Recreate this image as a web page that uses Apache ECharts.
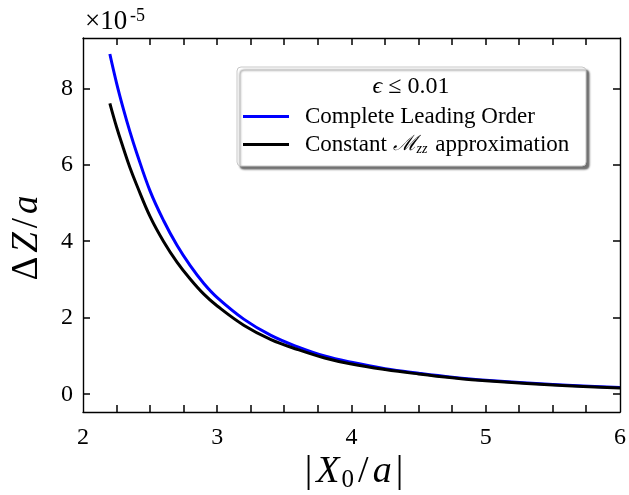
<!DOCTYPE html>
<html>
<head>
<meta charset="utf-8">
<script src="https://cdn.jsdelivr.net/npm/echarts@6/dist/echarts.min.js"></script>
<style>
  html, body { margin: 0; padding: 0; background: #fff; }
  #chart { width: 629px; height: 495px; }
</style>
</head>
<body>
<div id="chart"></div>
<script>
// |X0/a| sample positions
const xValues = [2.2, 2.25, 2.3, 2.35, 2.4, 2.5, 2.6, 2.7, 2.8, 2.9, 3.0, 3.2, 3.4, 3.6, 3.8, 4.0, 4.25, 4.5, 4.75, 5.0, 5.5, 6.0];
// ΔZ/a in units of 1e-5: complete leading order
const completeLeading = [8.91, 8.15, 7.48, 6.87, 6.32, 5.32, 4.55, 3.90, 3.36, 2.90, 2.53, 1.96, 1.54, 1.24, 1.00, 0.835, 0.67, 0.55, 0.445, 0.365, 0.255, 0.175];
// ΔZ/a in units of 1e-5: constant M_zz approximation
const constantMzz = [7.62, 7.00, 6.45, 5.93, 5.48, 4.65, 4.00, 3.46, 3.01, 2.62, 2.31, 1.80, 1.43, 1.17, 0.95, 0.79, 0.645, 0.53, 0.43, 0.35, 0.24, 0.165];

const xTickLabels = [2, 3, 4, 5, 6];
const yTickLabels = [0, 2, 4, 6, 8];

const FONT = '"Liberation Serif", "DejaVu Serif", serif';
const X_MIN = 2, X_MAX = 6, Y_MIN = -0.466, Y_MAX = 9.33;

// minor tick positions every quarter unit along x
const xMinorTicks = [];
for (let v = X_MIN; v <= X_MAX + 1e-6; v += 0.25) xMinorTicks.push(+v.toFixed(2));

const chart = echarts.init(document.getElementById('chart'), null, { renderer: 'canvas' });

const axisLine = { show: true, onZero: false, lineStyle: { color: '#000', width: 1.4 } };

const baseGraphic = [
  // legend frame with shadow
  {
    type: 'rect', z: 1,
    shape: { x: 237, y: 67, width: 349, height: 99, r: 4 },
    style: { fill: '#fff', stroke: '#c8c8c8', lineWidth: 1, shadowColor: 'rgba(0,0,0,0.55)', shadowOffsetX: 3, shadowOffsetY: 3, shadowBlur: 2 }
  },
  // legend title
  {
    type: 'text', z: 11, x: 411, y: 87,
    style: {
      text: '{e|ϵ}{t| ≤ 0.01}',
      align: 'center', verticalAlign: 'middle',
      rich: {
        e: { fontFamily: FONT, fontStyle: 'italic', fontSize: 24, fill: '#000' },
        t: { fontFamily: FONT, fontSize: 24, fill: '#000' }
      }
    }
  },
  // y-axis scale factor
  {
    type: 'text', z: 11, x: 85, y: 35,
    style: { text: '×10', fontFamily: FONT, fontSize: 27, fill: '#000', align: 'left', verticalAlign: 'bottom' }
  },
  {
    type: 'text', z: 11, x: 130, y: 25,
    style: { text: '-5', fontFamily: FONT, fontSize: 18, fill: '#000', align: 'left', verticalAlign: 'bottom' }
  },
  // y-axis title ΔZ/a
  {
    type: 'text', z: 11, x: 27, y: 238, rotation: Math.PI / 2,
    style: {
      text: '{n|Δ}{i|Z}{n|/}{i|a}',
      align: 'center', verticalAlign: 'middle',
      rich: {
        n: { fontFamily: FONT, fontSize: 37, fill: '#000', padding: [0, 2, 0, 2] },
        i: { fontFamily: FONT, fontStyle: 'italic', fontSize: 37, fill: '#000', padding: [0, 2, 0, 2] }
      }
    }
  },
  // x-axis title |X0/a|
  {
    type: 'text', z: 11, x: 354, y: 472,
    style: {
      text: '{n||}{i|X}{s|0}{n|/}{i|a}{n||}',
      align: 'center', verticalAlign: 'middle',
      rich: {
        n: { fontFamily: FONT, fontSize: 38, fill: '#000', lineHeight: 42, padding: [0, 2, 0, 2] },
        i: { fontFamily: FONT, fontStyle: 'italic', fontSize: 38, fill: '#000', lineHeight: 42, padding: [0, 2, 0, 2] },
        s: { fontFamily: FONT, fontSize: 25, fill: '#000', lineHeight: 42, verticalAlign: 'bottom', padding: [12, 2, 0, 0] }
      }
    }
  }
];

const option = {
  backgroundColor: '#fff',
  animation: false,
  grid: { left: 83, top: 38, width: 540, height: 374, containLabel: false },
  xAxis: [
    {
      type: 'value', min: X_MIN, max: X_MAX, position: 'bottom',
      axisLine: axisLine,
      axisTick: { show: false },
      axisLabel: { customValues: xTickLabels, color: '#000', fontFamily: FONT, fontSize: 24, margin: 14 },
      splitLine: { show: false }
    },
    {
      type: 'value', min: X_MIN, max: X_MAX, position: 'top',
      axisLine: axisLine,
      axisTick: { show: false },
      axisLabel: { show: false },
      splitLine: { show: false }
    }
  ],
  yAxis: [
    {
      type: 'value', min: Y_MIN, max: Y_MAX, position: 'left',
      axisLine: axisLine,
      axisTick: { show: false },
      axisLabel: { customValues: yTickLabels, color: '#000', fontFamily: FONT, fontSize: 24, margin: 10 },
      splitLine: { show: false }
    },
    {
      type: 'value', min: Y_MIN, max: Y_MAX, position: 'right',
      axisLine: axisLine,
      axisTick: { show: false },
      axisLabel: { show: false },
      splitLine: { show: false }
    }
  ],
  legend: {
    orient: 'vertical',
    left: 237, top: 67,
    padding: [38, 8, 8, 6],
    itemGap: 5,
    icon: 'rect',
    itemWidth: 46, itemHeight: 3,
    z: 10,
    data: ['Complete Leading Order', 'Constant Mzz approximation'],
    formatter: function (name) {
      if (name === 'Constant Mzz approximation') {
        return '{t|Constant }{m|ℳ}{s|zz}{t| approximation}';
      }
      return '{t|' + name + '}';
    },
    textStyle: {
      padding: [0, 0, 0, 11],
      rich: {
        t: { fontFamily: FONT, fontSize: 23, color: '#000', lineHeight: 24 },
        m: { fontFamily: '"DejaVu Serif", serif', fontStyle: 'italic', fontSize: 21, color: '#000', lineHeight: 24 },
        s: { fontFamily: FONT, fontStyle: 'italic', fontSize: 14, color: '#000', lineHeight: 24, verticalAlign: 'bottom', padding: [9, 2, 0, 0] }
      }
    }
  },
  graphic: baseGraphic,
  series: [
    {
      name: 'Complete Leading Order',
      type: 'line',
      xAxisIndex: 0, yAxisIndex: 0,
      data: xValues.map((x, i) => [x, completeLeading[i]]),
      smooth: 0.4,
      symbol: 'none', showSymbol: false,
      lineStyle: { color: '#0000ff', width: 3 },
      itemStyle: { color: '#0000ff' },
      z: 2
    },
    {
      name: 'Constant Mzz approximation',
      type: 'line',
      xAxisIndex: 0, yAxisIndex: 0,
      data: xValues.map((x, i) => [x, constantMzz[i]]),
      smooth: 0.4,
      symbol: 'none', showSymbol: false,
      lineStyle: { color: '#000000', width: 3 },
      itemStyle: { color: '#000000' },
      z: 3
    }
  ]
};

chart.setOption(option);

// Inward-pointing ticks on all four sides, placed through the axis scales
(function addFrameTicks() {
  const TICK_LEN = 7;
  const tickStyle = { stroke: '#000', lineWidth: 1.5 };
  const xPix = v => chart.convertToPixel({ xAxisIndex: 0 }, v);
  const yPix = v => chart.convertToPixel({ yAxisIndex: 0 }, v);
  const frameLeft = xPix(X_MIN), frameRight = xPix(X_MAX);
  const frameBottom = yPix(Y_MIN), frameTop = yPix(Y_MAX);
  const ticks = [];
  xMinorTicks.forEach(v => {
    if (v === X_MIN || v === X_MAX) return;
    const px = Math.round(xPix(v));
    ticks.push({ type: 'line', z: 5, silent: true, shape: { x1: px, y1: frameBottom, x2: px, y2: frameBottom - TICK_LEN }, style: tickStyle });
    ticks.push({ type: 'line', z: 5, silent: true, shape: { x1: px, y1: frameTop, x2: px, y2: frameTop + TICK_LEN }, style: tickStyle });
  });
  yTickLabels.forEach(v => {
    const py = Math.round(yPix(v));
    ticks.push({ type: 'line', z: 5, silent: true, shape: { x1: frameLeft, y1: py, x2: frameLeft + TICK_LEN, y2: py }, style: tickStyle });
    ticks.push({ type: 'line', z: 5, silent: true, shape: { x1: frameRight, y1: py, x2: frameRight - TICK_LEN, y2: py }, style: tickStyle });
  });
  chart.setOption({ graphic: baseGraphic.concat(ticks) });
})();
</script>
</body>
</html>
